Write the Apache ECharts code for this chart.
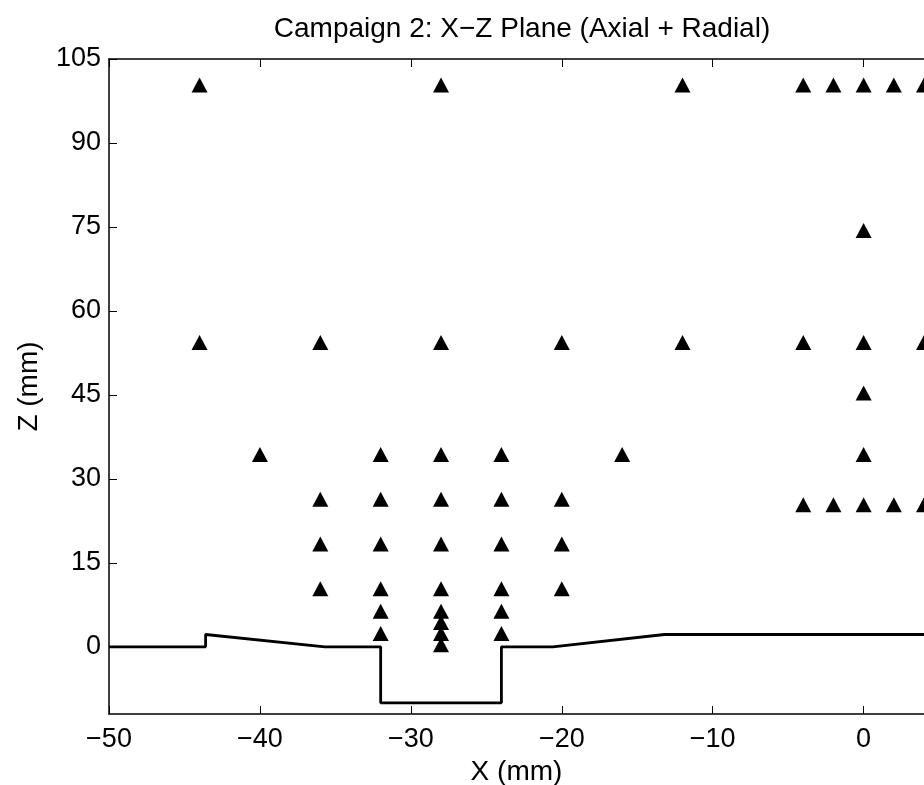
<!DOCTYPE html>
<html>
<head>
<meta charset="utf-8">
<script src="https://cdn.jsdelivr.net/npm/echarts@6/dist/echarts.min.js"></script>
<style>
html,body{margin:0;padding:0;background:#fff;}
#chart{width:924px;height:785px;}
</style>
</head>
<body>
<div id="chart"></div>
<script>
// ---- data ----
const titleText = 'Campaign 2: X\u2212Z Plane (Axial + Radial)';
const xName = 'X (mm)';
const yName = 'Z (mm)';
const xTicks = [-50, -40, -30, -20, -10, 0];
const yTicks = [0, 15, 30, 45, 60, 75, 90, 105];
const xRange = [-50, 4];
const yRange = [-12, 105];

// probe rows: z level and the x positions of the probes on it
const rowZ = [100, 74, 54, 45, 34, 26, 25, 18, 10, 6, 4, 2, 0];
const rowX = [
  [-44, -28, -12, -4, -2, 0, 2, 4],
  [0],
  [-44, -36, -28, -20, -12, -4, 0, 4],
  [0],
  [-40, -32, -28, -24, -16, 0],
  [-36, -32, -28, -24, -20],
  [-4, -2, 0, 2, 4],
  [-36, -32, -28, -24, -20],
  [-36, -32, -28, -24, -20],
  [-32, -28, -24],
  [-28],
  [-32, -28, -24],
  [-28]
];

// wall / cavity boundary profile
const wallX = [-50, -43.6, -43.6, -35.7, -32, -32, -24, -24, -20.6, -13.2, 4];
const wallZ = [0, 0, 2.2, 0, 0, -10, -10, 0, 0, 2.2, 2.2];

// ---- build ----
const probes = [];
rowZ.forEach((z, i) => rowX[i].forEach(x => probes.push([x, z])));
const wall = wallX.map((x, i) => [x, wallZ[i]]);

const FONT = 'Liberation Sans, Arial, Helvetica, sans-serif';
const minus = v => String(v).replace('-', '\u2212');

const chart = echarts.init(document.getElementById('chart'), null, {renderer: 'canvas'});
chart.setOption({
  animation: false,
  backgroundColor: '#fff',
  grid: {left: 109, top: 59, right: 0, bottom: 71, containLabel: false, outerBoundsMode: 'none'},
  graphic: [{
    type: 'text',
    x: 522, y: 29,
    style: {text: titleText, font: '28px ' + FONT, fill: '#000',
            align: 'center', verticalAlign: 'middle'}
  }],
  xAxis: [{
    type: 'value', min: xRange[0], max: xRange[1], position: 'bottom',
    name: xName, nameLocation: 'middle', nameGap: 44,
    nameTextStyle: {fontSize: 28, fontFamily: FONT, color: '#000'},
    axisLine: {show: true, onZero: false, lineStyle: {color: '#000', width: 1.5}},
    axisTick: {show: true, inside: true, length: 8, customValues: xTicks,
               lineStyle: {color: '#000', width: 1}},
    axisLabel: {show: true, customValues: xTicks, margin: 12, fontSize: 27,
                fontFamily: FONT, color: '#000', formatter: minus},
    splitLine: {show: false}
  }, {
    type: 'value', min: xRange[0], max: xRange[1], position: 'top',
    axisLine: {show: true, onZero: false, lineStyle: {color: '#000', width: 1.5}},
    axisTick: {show: true, inside: true, length: 8, customValues: xTicks,
               lineStyle: {color: '#000', width: 1}},
    axisLabel: {show: false},
    splitLine: {show: false}
  }],
  yAxis: [{
    type: 'value', min: yRange[0], max: yRange[1], position: 'left',
    name: yName, nameLocation: 'middle', nameGap: 66, nameRotate: 90,
    nameTextStyle: {fontSize: 28, fontFamily: FONT, color: '#000'},
    axisLine: {show: true, onZero: false, lineStyle: {color: '#000', width: 1.5}},
    axisTick: {show: true, inside: true, length: 8, customValues: yTicks,
               lineStyle: {color: '#000', width: 1}},
    axisLabel: {show: true, customValues: yTicks, margin: 8, fontSize: 27,
                fontFamily: FONT, color: '#000', formatter: minus},
    splitLine: {show: false}
  }],
  series: [{
    type: 'line', data: wall, xAxisIndex: 0, yAxisIndex: 0,
    showSymbol: false, symbol: 'none', smooth: false,
    lineStyle: {color: '#000', width: 2.8},
    z: 2
  }, {
    type: 'scatter', data: probes, xAxisIndex: 0, yAxisIndex: 0,
    symbol: 'triangle', symbolSize: [16, 15], symbolOffset: [0, -2],
    itemStyle: {color: '#000', opacity: 1},
    clip: false,
    z: 3
  }]
});
</script>
</body>
</html>
